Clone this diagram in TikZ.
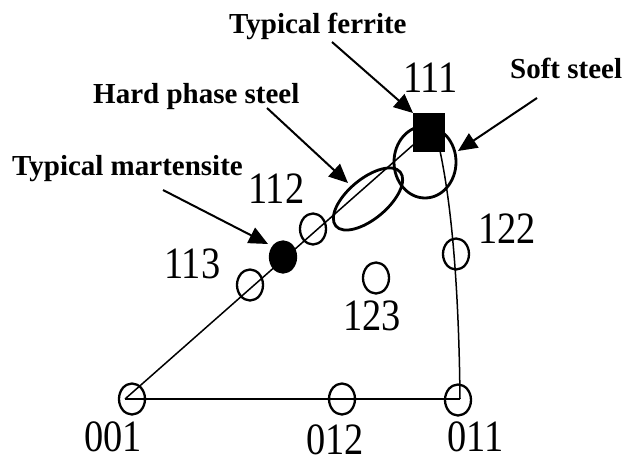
\documentclass[tikz,border=0pt]{standalone}
\usepackage{fontspec}
\setmainfont{Liberation Serif}
\usetikzlibrary{shapes.geometric,arrows.meta}
\newcommand{\tallnum}[1]{\scalebox{0.96}[1.12]{#1}}
\begin{document}
\begin{tikzpicture}[x=1pt,y=-1pt,
  lbl/.style={font=\fontsize{29}{30}\selectfont\bfseries, inner sep=0pt, anchor=base west},
  num/.style={font=\fontsize{40}{40}\selectfont, inner sep=0pt, anchor=base west},
  pole/.style={draw, ellipse, line width=2.3pt, minimum width=26pt, minimum height=31pt, inner sep=0pt},
  fpole/.style={pole, fill=black},
  zone/.style={draw, line width=2.8pt},
  edge/.style={line width=1.5pt},
  ptr/.style={line width=2pt, -{Triangle[length=19pt,width=17pt]}}
]
\useasboundingbox (0,0) rectangle (629,463);

% poles
\node[pole] (c001) at (132,399) {};
\node[pole] (c012) at (342,399) {};
\node[pole] (c011) at (458,400) {};
\node[pole] (c122) at (456,254) {};
\node[pole] (c123) at (376,278) {};
\node[pole] (c113) at (250,285) {};
\node[pole] (c112) at (313,229) {};
\node[fpole] (cmart) at (283,257) {};
\node[draw, fill=black, minimum width=31pt, minimum height=38pt, inner sep=0pt] (sq) at (428.5,132) {};

% triangle edges
\coordinate (o001) at (125,399);
\coordinate (e111) at (413,145);
\coordinate (s111) at (440,151);
\coordinate (o011) at (460,399);
\draw[edge] (o001) -- (e111);
\draw[edge] (o001) -- (o011);
\draw[edge] (s111) .. controls (453,212) and (459,300) .. (o011);

% zones
\draw[zone] (425,162) ellipse [x radius=31, y radius=36];
\draw[zone, rotate around={40:(368,199)}] (368,199) ellipse [x radius=42, y radius=20];

% numbers
\node[num] (n111) at (403,92) {\tallnum{111}};
\node[num] (n112) at (248,203) {\tallnum{112}};
\node[num] (n113) at (164,278) {\tallnum{113}};
\node[num] (n122) at (478,243) {\tallnum{122}};
\node[num] (n123) at (343,330) {\tallnum{123}};
\node[num] (n001) at (84,451) {\tallnum{001}};
\node[num] (n012) at (306,454) {\tallnum{012}};
\node[num] (n011) at (447,451) {\tallnum{011}};

% labels
\node[lbl] (lfer) at (229,33) {Typical ferrite};
\node[lbl] (lsoft) at (510,78) {Soft steel};
\node[lbl] (lhard) at (93,103) {Hard phase steel};
\node[lbl] (lmart) at (12,175) {Typical martensite};

% pointers
\coordinate (afer) at (332,42);
\coordinate (tfer) at (413,113);
\coordinate (asoft) at (537,98);
\coordinate (tsoft) at (458,151);
\coordinate (ahard) at (267,108);
\coordinate (thard) at (348,183);
\coordinate (amart) at (163,190);
\coordinate (tmart) at (268,244);
\draw[ptr] (afer) -- (tfer);
\draw[ptr] (asoft) -- (tsoft);
\draw[ptr] (ahard) -- (thard);
\draw[ptr] (amart) -- (tmart);
\end{tikzpicture}
\end{document}
